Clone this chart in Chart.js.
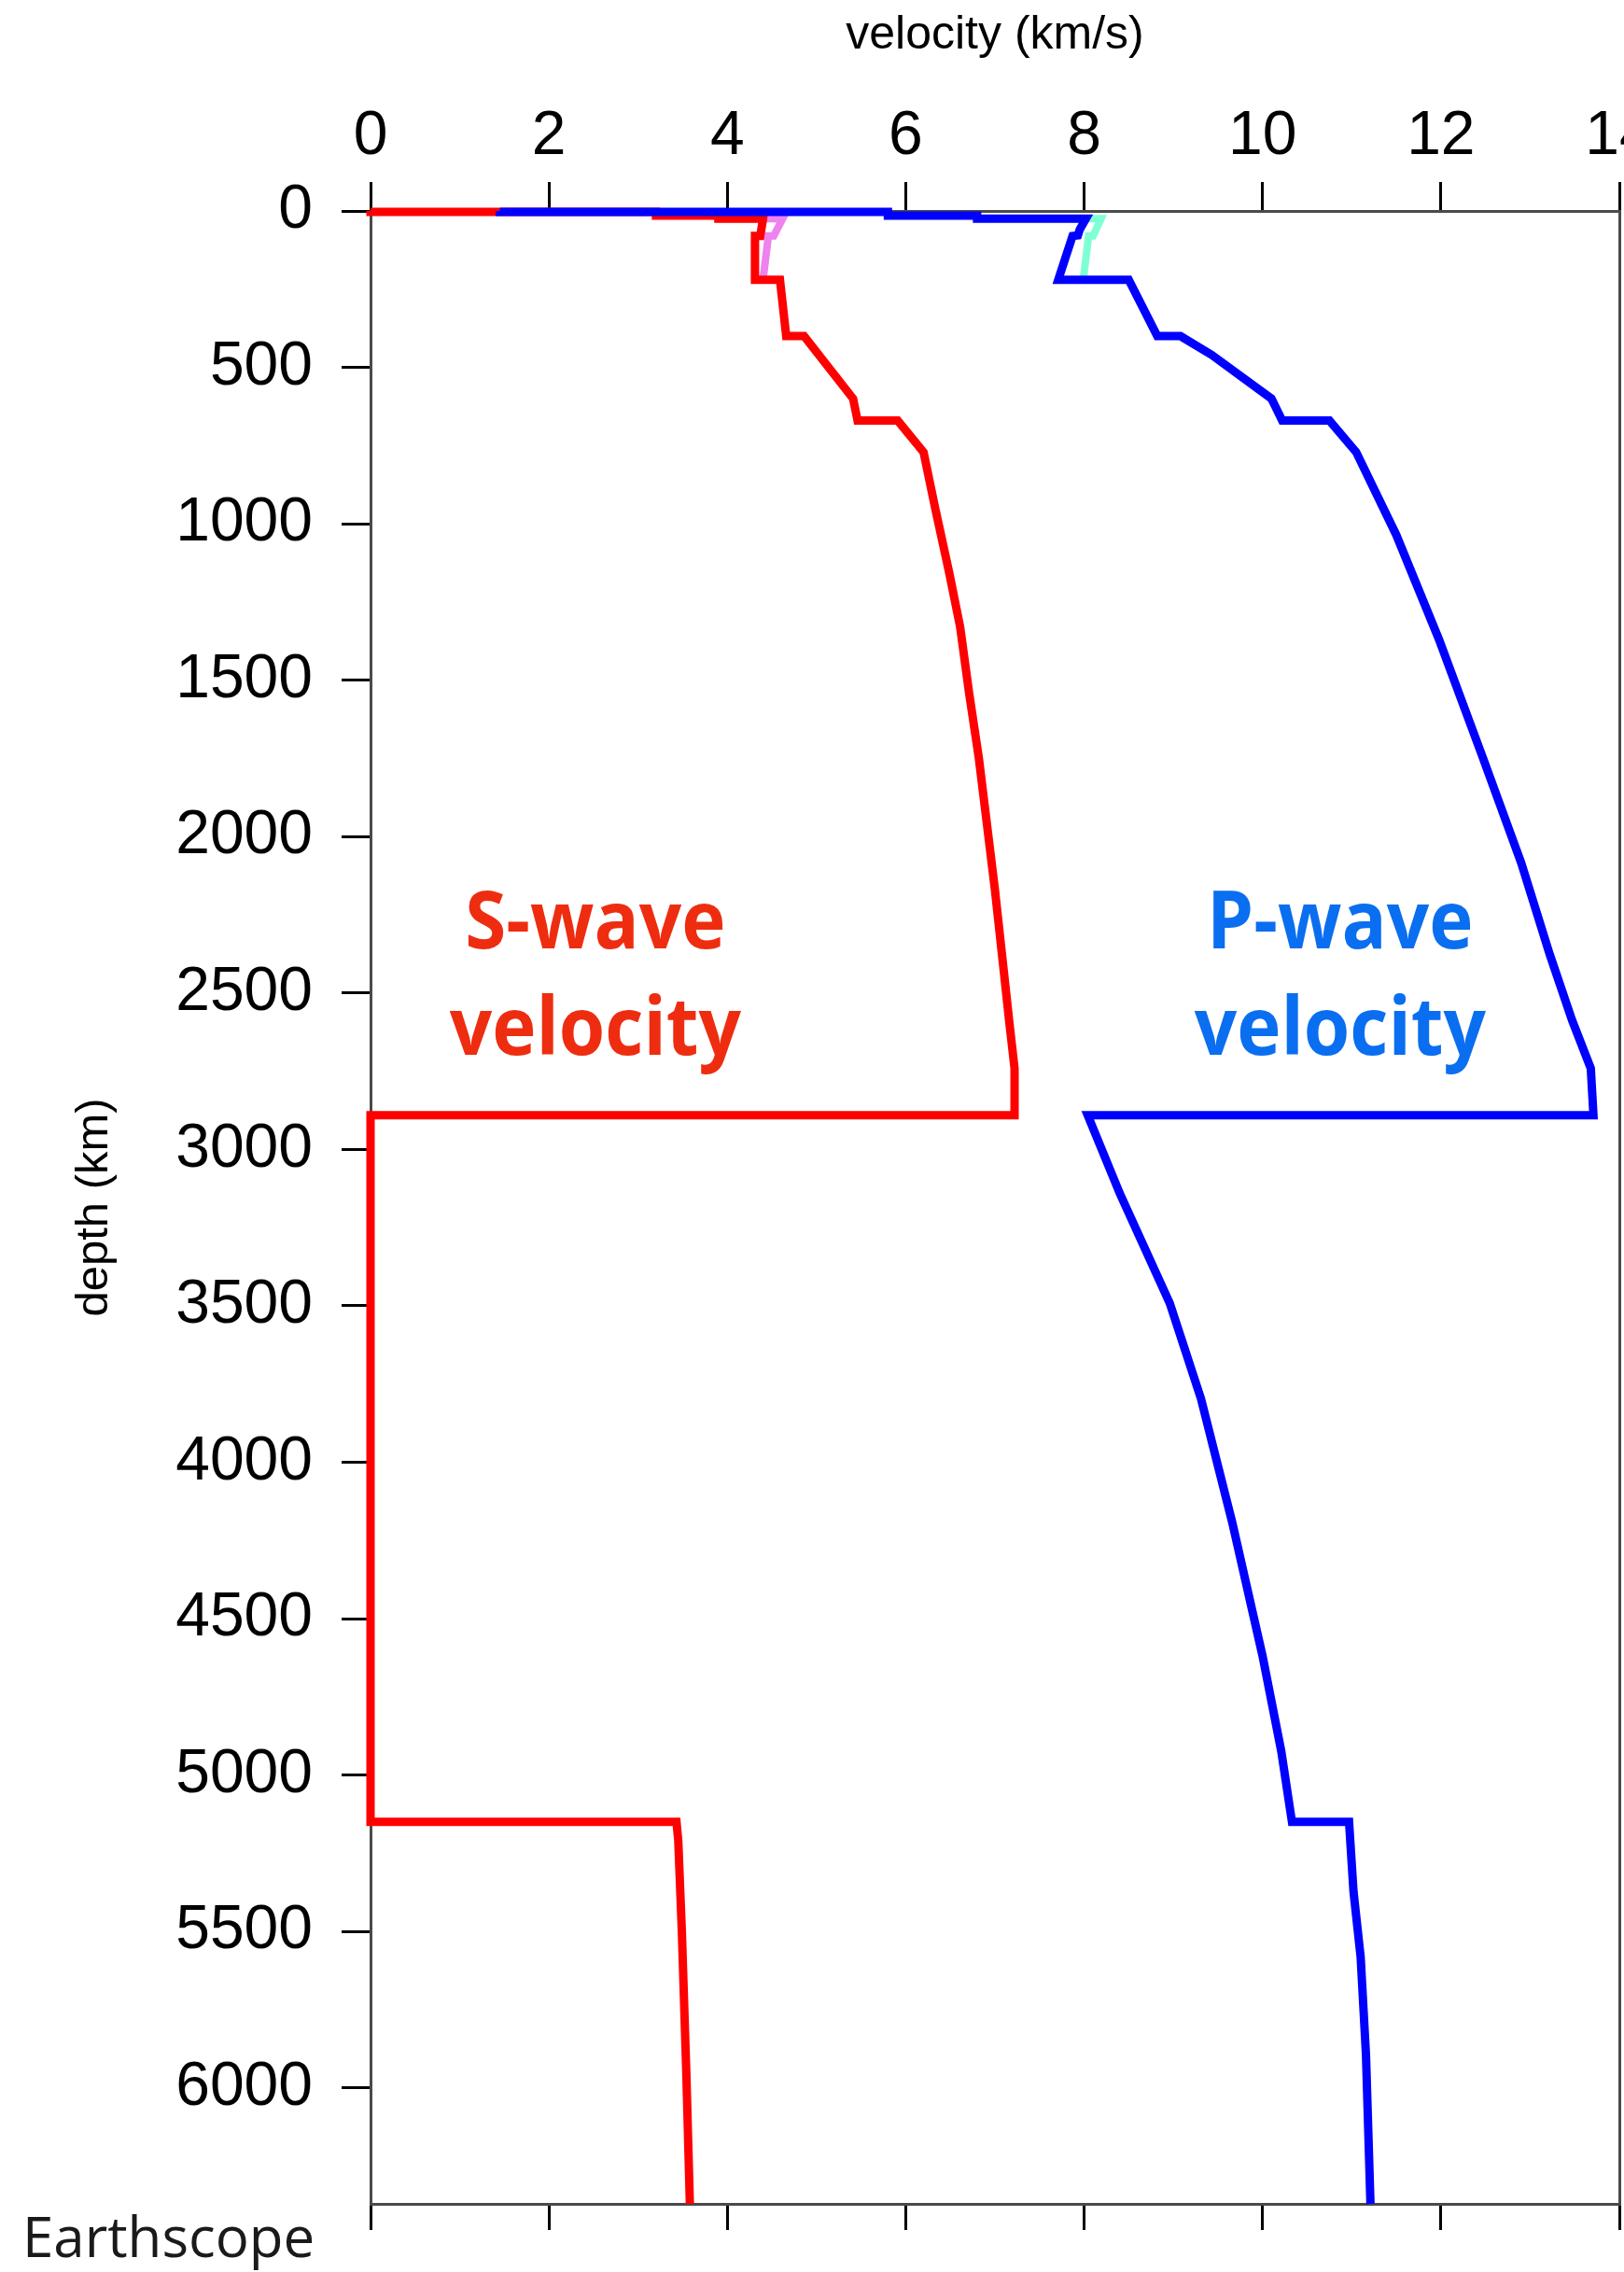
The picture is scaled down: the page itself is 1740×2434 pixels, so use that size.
<!DOCTYPE html>
<html>
<head>
<meta charset="utf-8">
<title>Seismic velocity vs depth</title>
<script src="https://cdn.jsdelivr.net/npm/chart.js@4.4.1/dist/chart.umd.min.js"></script>
<style>
  html, body { margin: 0; padding: 0; background: #fff; }
  canvas { display: block; }
</style>
</head>
<body>
<canvas id="chart" width="1740" height="2434"></canvas>
<script>
// Velocity profile: velocity in km/s, depth in km

// S-wave, main curve
const sDepth = [0, 3, 3, 15, 15, 24.4, 24.4, 80, 80, 220, 220, 400, 400, 600, 670, 670, 771, 950, 1160, 1330,
  1540, 1750, 1960, 2170, 2380, 2590, 2741, 2891, 2891, 5150, 5150, 5210, 5500, 5950, 6371];
const sVel = [0, 0, 3.2, 3.2, 3.9, 3.9, 4.40, 4.37, 4.31, 4.31, 4.59, 4.66, 4.86, 5.41, 5.46, 5.91, 6.20, 6.33, 6.49, 6.61,
  6.71, 6.82, 6.91, 7.00, 7.08, 7.16, 7.22, 7.22, 0, 0, 3.43, 3.45, 3.49, 3.54, 3.58];

// P-wave, main curve
const pDepth = [0, 3, 3, 15, 15, 24.4, 24.4, 60, 78, 80, 220, 220, 400, 400, 460, 600, 670, 670, 771, 1036, 1371,
  1748, 2084, 2377, 2587, 2741, 2891, 2891, 3141, 3492, 3797, 4192, 4619, 4924, 5150, 5150, 5373, 5582, 5896, 6371];
const pVel = [1.45, 1.45, 5.8, 5.8, 6.8, 6.8, 8.02, 7.95, 7.93, 7.87, 7.71, 8.50, 8.82, 9.08, 9.43, 10.10, 10.22, 10.75, 11.05, 11.50, 11.98,
  12.47, 12.90, 13.22, 13.47, 13.68, 13.71, 8.04, 8.40, 8.96, 9.31, 9.66, 10.00, 10.21, 10.33, 10.97, 11.02, 11.10, 11.16, 11.21];

// horizontal components in the upper mantle (pale lines)
const shDepth = [24.4, 24.4, 80, 80, 220, 220];
const shVel = [3.9, 4.62, 4.52, 4.46, 4.40, 4.59];
const phDepth = [24.4, 24.4, 80, 80, 220, 220];
const phVel = [6.8, 8.19, 8.10, 8.05, 7.99, 8.50];

// axes
const velTicks = [0, 2, 4, 6, 8, 10, 12, 14];
const depthTicks = [0, 500, 1000, 1500, 2000, 2500, 3000, 3500, 4000, 4500, 5000, 5500, 6000];
const velTitle = "velocity (km/s)";
const depthTitle = "depth (km)";
const sourceText = "Earthscope";

const waveLabels = [
  { lines: ["S-wave", "velocity"], vel: 2.52, depth: 2357, color: "#EE2D10" },
  { lines: ["P-wave", "velocity"], vel: 10.87, depth: 2357, color: "#0A6EF0" }
];

const SANS = "'Liberation Sans', Arial, Helvetica, sans-serif";
const AXIS_GREY = "#4a4a4a";

const toPoints = (vel, depth) => vel.map((v, i) => ({ x: v, y: depth[i] }));

function profile(label, vel, depth, color, width) {
  return {
    label: label,
    data: toPoints(vel, depth),
    borderColor: color,
    backgroundColor: color,
    borderWidth: width,
    pointRadius: 0,
    showLine: true,
    tension: 0,
    borderJoinStyle: "miter",
    borderCapStyle: "butt",
    clip: false
  };
}

// pin the chart area to the reference frame
function fixSize(w, h) {
  return function (scale) {
    if (w != null) scale.width = w;
    if (h != null) scale.height = h;
    scale.paddingLeft = scale.paddingRight = scale.paddingTop = scale.paddingBottom = 0;
  };
}

const useTicks = list => scale => { scale.ticks = list.map(v => ({ value: v })); };

const tickFont = { family: SANS, size: 66 };

const annotations = {
  id: "annotations",
  afterDraw(chart) {
    const { ctx } = chart;
    const x = chart.scales.x, y = chart.scales.y;
    ctx.save();
    ctx.font = "bold 86px 'Open Sans', 'DejaVu Sans', sans-serif";
    ctx.textAlign = "center";
    ctx.textBaseline = "alphabetic";
    waveLabels.forEach(l => {
      ctx.fillStyle = l.color;
      const cx = x.getPixelForValue(l.vel);
      const by = y.getPixelForValue(l.depth);
      l.lines.forEach((t, i) => {
        // the original lettering is a bit narrower than Open Sans
        ctx.save();
        ctx.translate(cx, by + i * 114);
        ctx.scale(0.93, 1);
        ctx.fillText(t, 0, 0);
        ctx.restore();
      });
    });
    ctx.font = "60px 'Open Sans', 'DejaVu Sans', sans-serif";
    ctx.textAlign = "left";
    ctx.fillStyle = "#1a1a1a";
    ctx.fillText(sourceText, 24, 2418);
    ctx.restore();
  }
};

new Chart(document.getElementById("chart"), {
  type: "scatter",
  data: {
    datasets: [
      profile("P-wave", pVel, pDepth, "#0000FF", 9),
      profile("S-wave", sVel, sDepth, "#FF0000", 9),
      profile("PH", phVel, phDepth, "#7FFFD4", 8),
      profile("SH", shVel, shDepth, "#EE82EE", 8)
    ]
  },
  options: {
    responsive: false,
    animation: false,
    devicePixelRatio: 1,
    layout: { padding: 0 },
    plugins: { legend: { display: false }, tooltip: { enabled: false } },
    scales: {
      x: {
        type: "linear", position: "top", min: 0, max: 14,
        afterBuildTicks: useTicks(velTicks),
        afterFit: fixSize(null, 226),
        ticks: { font: tickFont, color: "#000", padding: 9, maxRotation: 0, autoSkip: false, callback: v => String(v) },
        grid: { drawOnChartArea: false, color: "#000", lineWidth: 3, tickLength: 31 },
        border: { color: AXIS_GREY, width: 3 },
        title: { display: true, text: velTitle, color: "#000", font: { family: SANS, size: 50 }, padding: { top: 8, bottom: 0 } }
      },
      x2: {
        type: "linear", position: "bottom", min: 0, max: 14,
        afterBuildTicks: useTicks(velTicks),
        afterFit: fixSize(null, 73),
        ticks: { display: false },
        grid: { drawOnChartArea: false, color: "#000", lineWidth: 3, tickLength: 28 },
        border: { color: AXIS_GREY, width: 3 }
      },
      y: {
        type: "linear", position: "left", reverse: true, min: 0, max: 6371,
        afterBuildTicks: useTicks(depthTicks),
        afterFit: fixSize(397, null),
        ticks: { font: tickFont, color: "#000", padding: 31, autoSkip: false, callback: v => String(v) },
        grid: { drawOnChartArea: false, color: "#000", lineWidth: 3, tickLength: 31 },
        border: { color: AXIS_GREY, width: 3 },
        title: { display: true, text: depthTitle, color: "#000", font: { family: SANS, size: 49 }, padding: { top: 72, bottom: 0 } }
      },
      y2: {
        type: "linear", position: "right", reverse: true, min: 0, max: 6371,
        afterFit: fixSize(5, null),
        ticks: { display: false },
        grid: { drawOnChartArea: false, drawTicks: false },
        border: { color: AXIS_GREY, width: 3 }
      }
    }
  },
  plugins: [annotations]
});
</script>
</body>
</html>
